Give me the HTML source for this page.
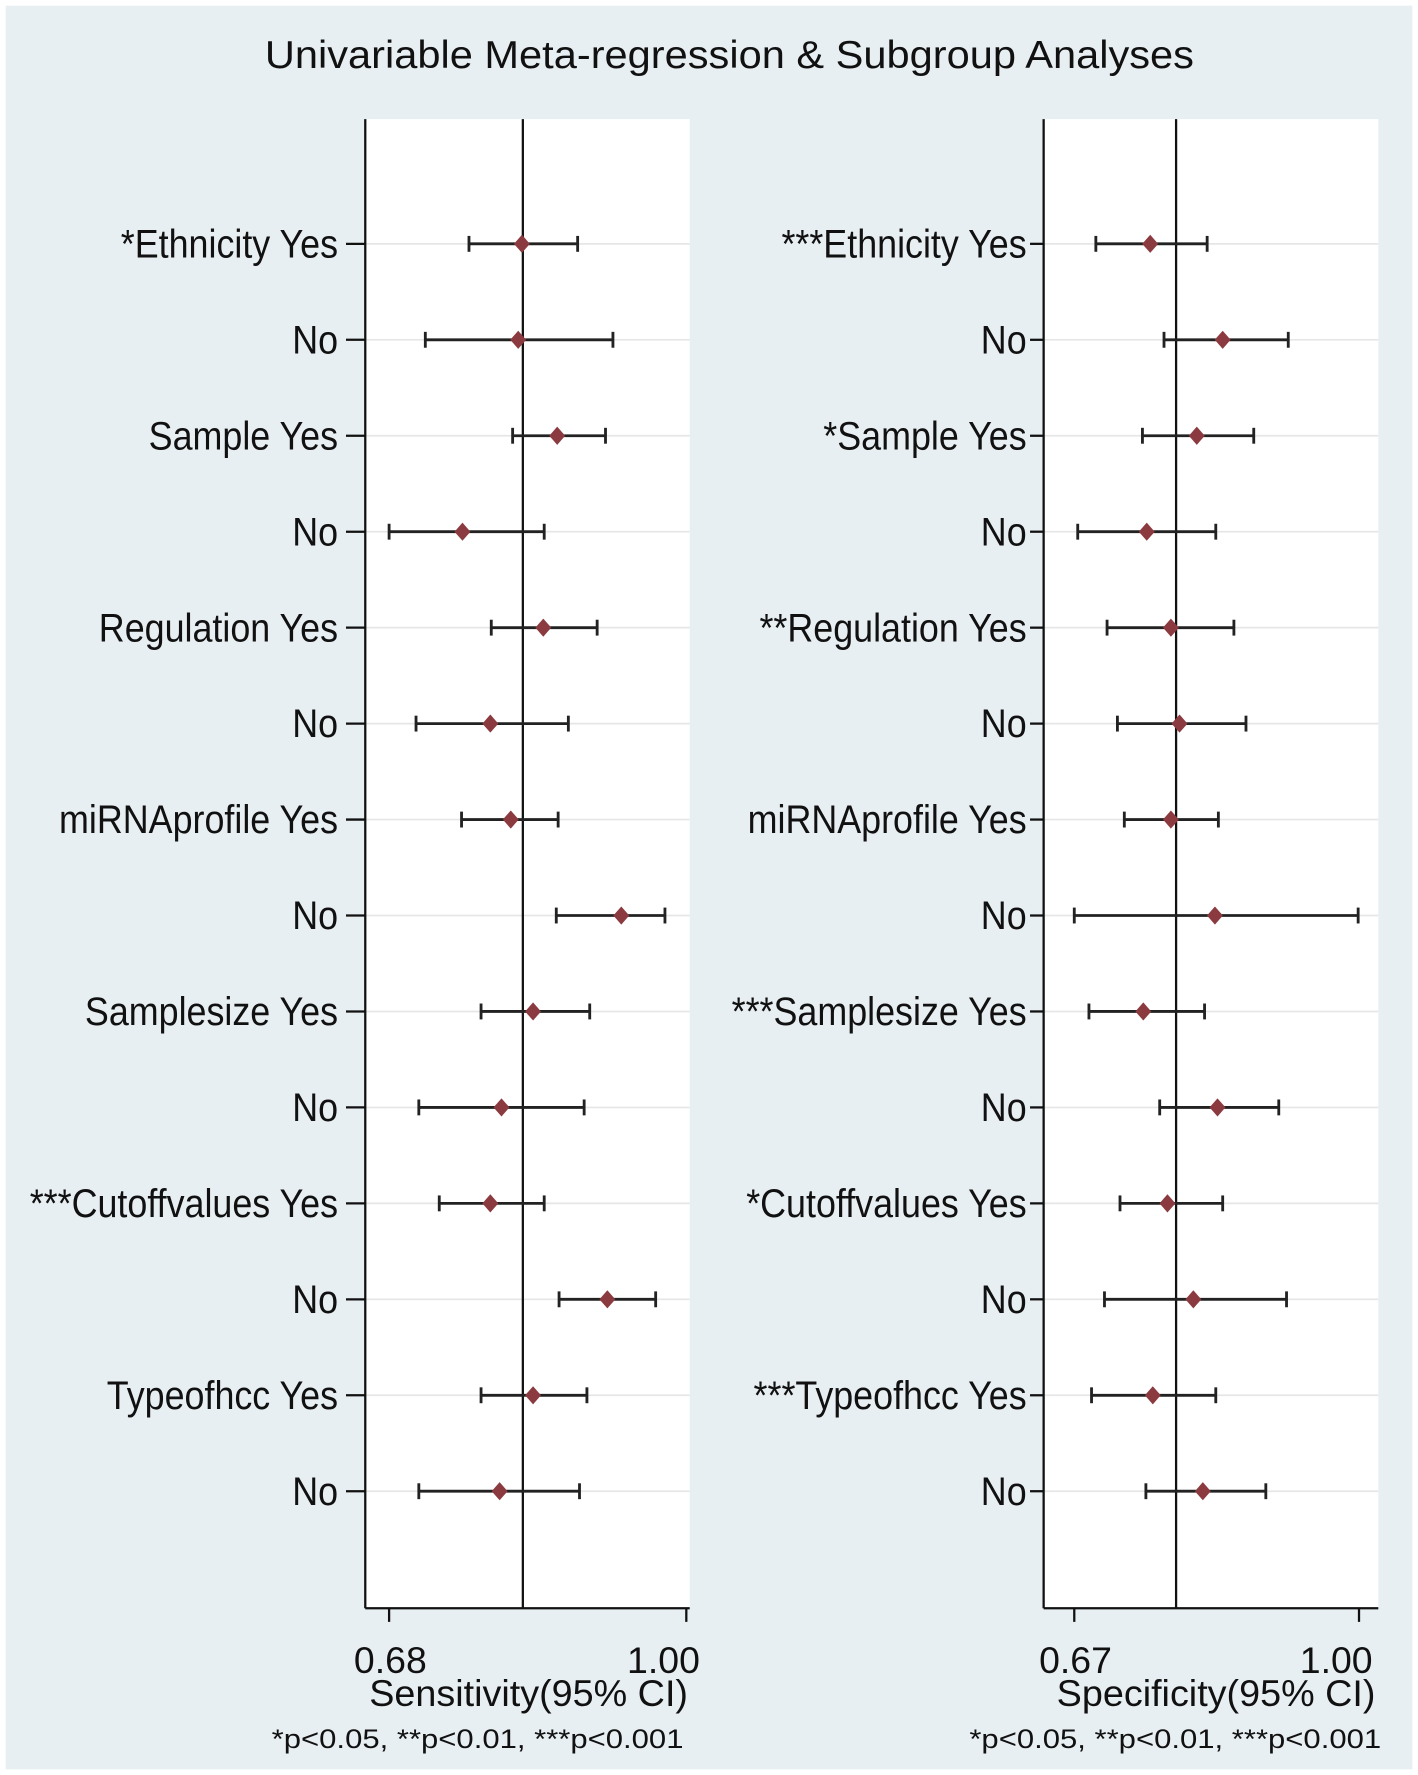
<!DOCTYPE html>
<html><head><meta charset="utf-8"><style>
html,body{margin:0;padding:0;background:#fff}
svg{display:block}
text{font-family:"Liberation Sans",Arial,sans-serif;fill:#111}
</style></head><body>
<svg id="c" width="1418" height="1775" viewBox="0 0 1250 1565" preserveAspectRatio="none" xmlns="http://www.w3.org/2000/svg">
<rect x="5" y="5" width="1240" height="1555" fill="#e8eff2"/>
<text x="643" y="60" font-size="34" textLength="819" lengthAdjust="spacingAndGlyphs" text-anchor="middle">Univariable Meta-regression &amp; Subgroup Analyses</text>
<g id="g"></g>
</svg>
<script>
const leftLabels=["*Ethnicity Yes","No","Sample Yes","No","Regulation Yes","No","miRNAprofile Yes","No","Samplesize Yes","No","***Cutoffvalues Yes","No","Typeofhcc Yes","No"];
const rightLabels=["***Ethnicity Yes","No","*Sample Yes","No","**Regulation Yes","No","miRNAprofile Yes","No","***Samplesize Yes","No","*Cutoffvalues Yes","No","***Typeofhcc Yes","No"];
const sensEst=[.823,.819,.861,.759,.846,.789,.811,.930,.835,.801,.789,.915,.835,.799];
const sensLo=[.766,.719,.813,.680,.790,.709,.758,.860,.779,.712,.734,.863,.779,.712];
const sensHi=[.883,.921,.913,.847,.904,.873,.862,.977,.896,.890,.847,.967,.893,.885];
const sensPooled=0.824;
const specEst=[.758,.842,.812,.754,.782,.792,.782,.833,.750,.836,.778,.808,.761,.819];
const specLo=[.695,.774,.749,.674,.708,.720,.728,.670,.687,.769,.723,.705,.690,.753];
const specHi=[.824,.918,.878,.834,.855,.869,.837,.999,.821,.907,.842,.916,.834,.892];
const specPooled=0.788;
const sensTicks=[0.68,1.00];
const specTicks=[0.67,1.00];

const NS="http://www.w3.org/2000/svg";
const g=document.getElementById('g');
function mk(tag,attrs,parent){const e=document.createElementNS(NS,tag);for(const k in attrs)e.setAttribute(k,attrs[k]);(parent||g).appendChild(e);return e;}
const rowY=i=>215+i*84.6;
function panel(cfg){
  const p=mk('g',{});
  
  
  const x=v=>cfg.t0x+(v-cfg.ticks[0])/(cfg.ticks[1]-cfg.ticks[0])*(cfg.t1x-cfg.t0x);
  const bg=mk('rect',{x:cfg.x0,y:105,width:cfg.x1-cfg.x0,height:1313,fill:'#fff'},p);
  
  
  cfg.labels.forEach((lab,i)=>{
    const y=rowY(i);
    const gl=mk('line',{x1:cfg.x0,x2:cfg.x1,y1:y,y2:y,stroke:'#e6e6e6','stroke-width':1.5},p);
    
    
    const tk=mk('line',{x1:cfg.x0-cfg.tickLen,x2:cfg.x0,y1:y,y2:y,stroke:'#111','stroke-width':2},p);
    
    
    const lx=cfg.x0-cfg.labOff;
    const t=mk('text',{x:0,y:0,'font-size':34,'text-anchor':'end',transform:`translate(${lx},${y+12}) scale(0.93,1.03)`},p);
    t.textContent=lab;
    
    
  });
  const ax=mk('line',{x1:cfg.x0,x2:cfg.x0,y1:105,y2:1418,stroke:'#111','stroke-width':2},p);
  
  
  const bx=mk('line',{x1:cfg.x0,x2:cfg.x1,y1:1418,y2:1418,stroke:'#111','stroke-width':2},p);
  
  
  const pl=mk('line',{x1:x(cfg.pooled),x2:x(cfg.pooled),y1:105,y2:1418,stroke:'#111','stroke-width':2},p);
  
  
  cfg.ticks.forEach((v,k)=>{
    const l=mk('line',{x1:x(v),x2:x(v),y1:1418,y2:1430,stroke:'#111','stroke-width':2},p);
    
    
    const t=mk('text',{x:x(v)+(k==0?-31:12),y:1475,'font-size':33,'text-anchor':k==0?'start':'end'},p);
    t.textContent=v.toFixed(2);
    
    
  });
  cfg.est.forEach((e,i)=>{
    const y=rowY(i);
    const ci=mk('line',{x1:x(cfg.lo[i]),x2:x(cfg.hi[i]),y1:y,y2:y,stroke:'#222','stroke-width':2.5},p);
    
    
    [cfg.lo[i],cfg.hi[i]].forEach(v=>{
      const c=mk('line',{x1:x(v),x2:x(v),y1:y-7,y2:y+7,stroke:'#222','stroke-width':2.5},p);
      
      
    });
    const cx=x(e);
    const d=mk('polygon',{points:`${cx},${y-8} ${cx+7},${y} ${cx},${y+8} ${cx-7},${y}`,fill:'#8b3a3f'},p);
    
    
  });
  const at=mk('text',{x:cfg.titleX,y:1504,'font-size':33,'text-anchor':'middle',textLength:281,lengthAdjust:'spacingAndGlyphs'},p);
  at.textContent=cfg.title;
  
  
  const fn=mk('text',{x:cfg.fnX,y:1541,'font-size':24,'text-anchor':'middle',textLength:363,lengthAdjust:'spacingAndGlyphs'},p);
  fn.textContent='*p<0.05, **p<0.01, ***p<0.001';
  
  
}
panel({name:'sensitivity-panel',x0:322,x1:608,t0x:343,t1x:605,ticks:sensTicks,labels:leftLabels,est:sensEst,lo:sensLo,hi:sensHi,pooled:sensPooled,title:'Sensitivity(95% CI)',titleX:466,fnX:421,labOff:24,tickLen:17});
panel({name:'specificity-panel',x0:920,x1:1215,t0x:947,t1x:1198,ticks:specTicks,labels:rightLabels,est:specEst,lo:specLo,hi:specHi,pooled:specPooled,title:'Specificity(95% CI)',titleX:1072,fnX:1036,labOff:15,tickLen:12});
</script>
</body></html>
